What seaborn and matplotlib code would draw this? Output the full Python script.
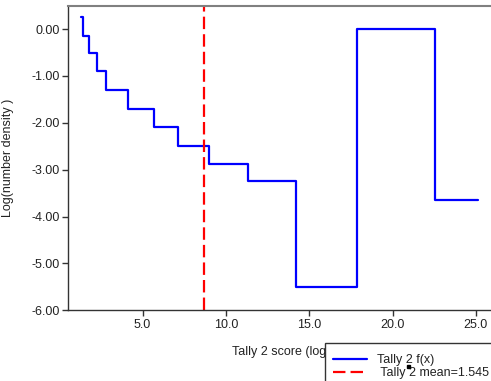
import matplotlib
matplotlib.use("Agg")
import matplotlib.pyplot as plt
import seaborn as sns
import pandas as pd
import numpy as np

# Data
bin_edges = [1.32, 1.41, 1.80, 2.26, 2.80, 4.13, 5.71, 7.15, 8.99, 11.32, 14.22, 17.86, 22.56, 25.13]
log_density = [0.25, -0.15, -0.52, -0.90, -1.30, -1.70, -2.09, -2.49, -2.88, -3.24, -5.51, 0.00, -3.64]
mean_x = 8.71
x_ticks = [5.0, 10.0, 15.0, 20.0, 25.0]
y_ticks = [0.0, -1.0, -2.0, -3.0, -4.0, -5.0, -6.0]
series_label = "Tally 2 f(x)"
mean_label = " Tally 2 mean=1.545"

df = pd.DataFrame({"x": bin_edges, "y": log_density + [log_density[-1]]})

sns.set_style("ticks")
plt.rcParams["font.family"] = ["Liberation Sans", "DejaVu Sans"]

W, H = 491, 381
fig = plt.figure(figsize=(W / 100, H / 100), dpi=100)
left_px, right_px, top_px, bottom_px = 68.3, 500.8, 5.7, 310.3
ax = fig.add_axes([left_px / W, 1 - bottom_px / H, (right_px - left_px) / W, (bottom_px - top_px) / H])

sns.lineplot(data=df, x="x", y="y", ax=ax, color="#0000FF", lw=1.6,
             drawstyle="steps-post", estimator=None, sort=True, label=series_label, legend=False)
ax.axvline(mean_x, color="#FF0000", lw=1.6, dashes=(5.6, 2.3), label=mean_label)

ax.set_xlim(0.54, 26.5)
ax.set_ylim(-6.0, 0.5)
ax.set_xticks(x_ticks)
ax.set_yticks(y_ticks)
ax.set_xticklabels([f"{v:.1f}" for v in x_ticks])
ax.set_yticklabels([f"{v:.2f}" for v in y_ticks])
ax.tick_params(axis="both", labelsize=9, length=4, width=1, color="#333333", labelcolor="#222222", pad=2)

for side in ["left", "bottom"]:
    ax.spines[side].set_color("#333333")
    ax.spines[side].set_linewidth(1.0)
ax.spines["top"].set_color("#808080")
ax.spines["top"].set_linewidth(1.5)
ax.spines["right"].set_visible(False)

ax.set_ylabel("Log(number density )", fontsize=9, color="#222222")
ax.yaxis.set_label_coords(-(left_px - 14) / (right_px - left_px), 0.5)
ax.set_xlabel("")
fig.text(232 / W, 1 - 352 / H, "Tally 2 score (log)", fontsize=9, color="#222222",
         ha="left", va="center")

# legend frame (extends past the figure edges, as in the reference)
frame = plt.Rectangle((325 / W, -0.05), 0.5, (1 - 342.7 / H) + 0.05, transform=fig.transFigure,
                      facecolor="white", edgecolor="#333333", lw=1.0, zorder=9)
fig.patches.append(frame)

handles, labels = ax.get_legend_handles_labels()
leg = fig.legend(handles, labels, loc="upper left", bbox_to_anchor=(333 / W, 1 - 354 / H),
                 fontsize=9, frameon=False,
                 handlelength=2.7, handletextpad=0.8, borderpad=0.0, labelspacing=0.1,
                 borderaxespad=0)
for t in leg.get_texts():
    t.set_color("#222222")
leg.set_zorder(10)

# small black mark in the legend seen in the reference
fig.patches.append(plt.Rectangle((407 / W, 1 - 368 / H), 3 / W, 3 / H, transform=fig.transFigure,
                                 color="black", zorder=20))

fig.savefig("out.png", dpi=100)
